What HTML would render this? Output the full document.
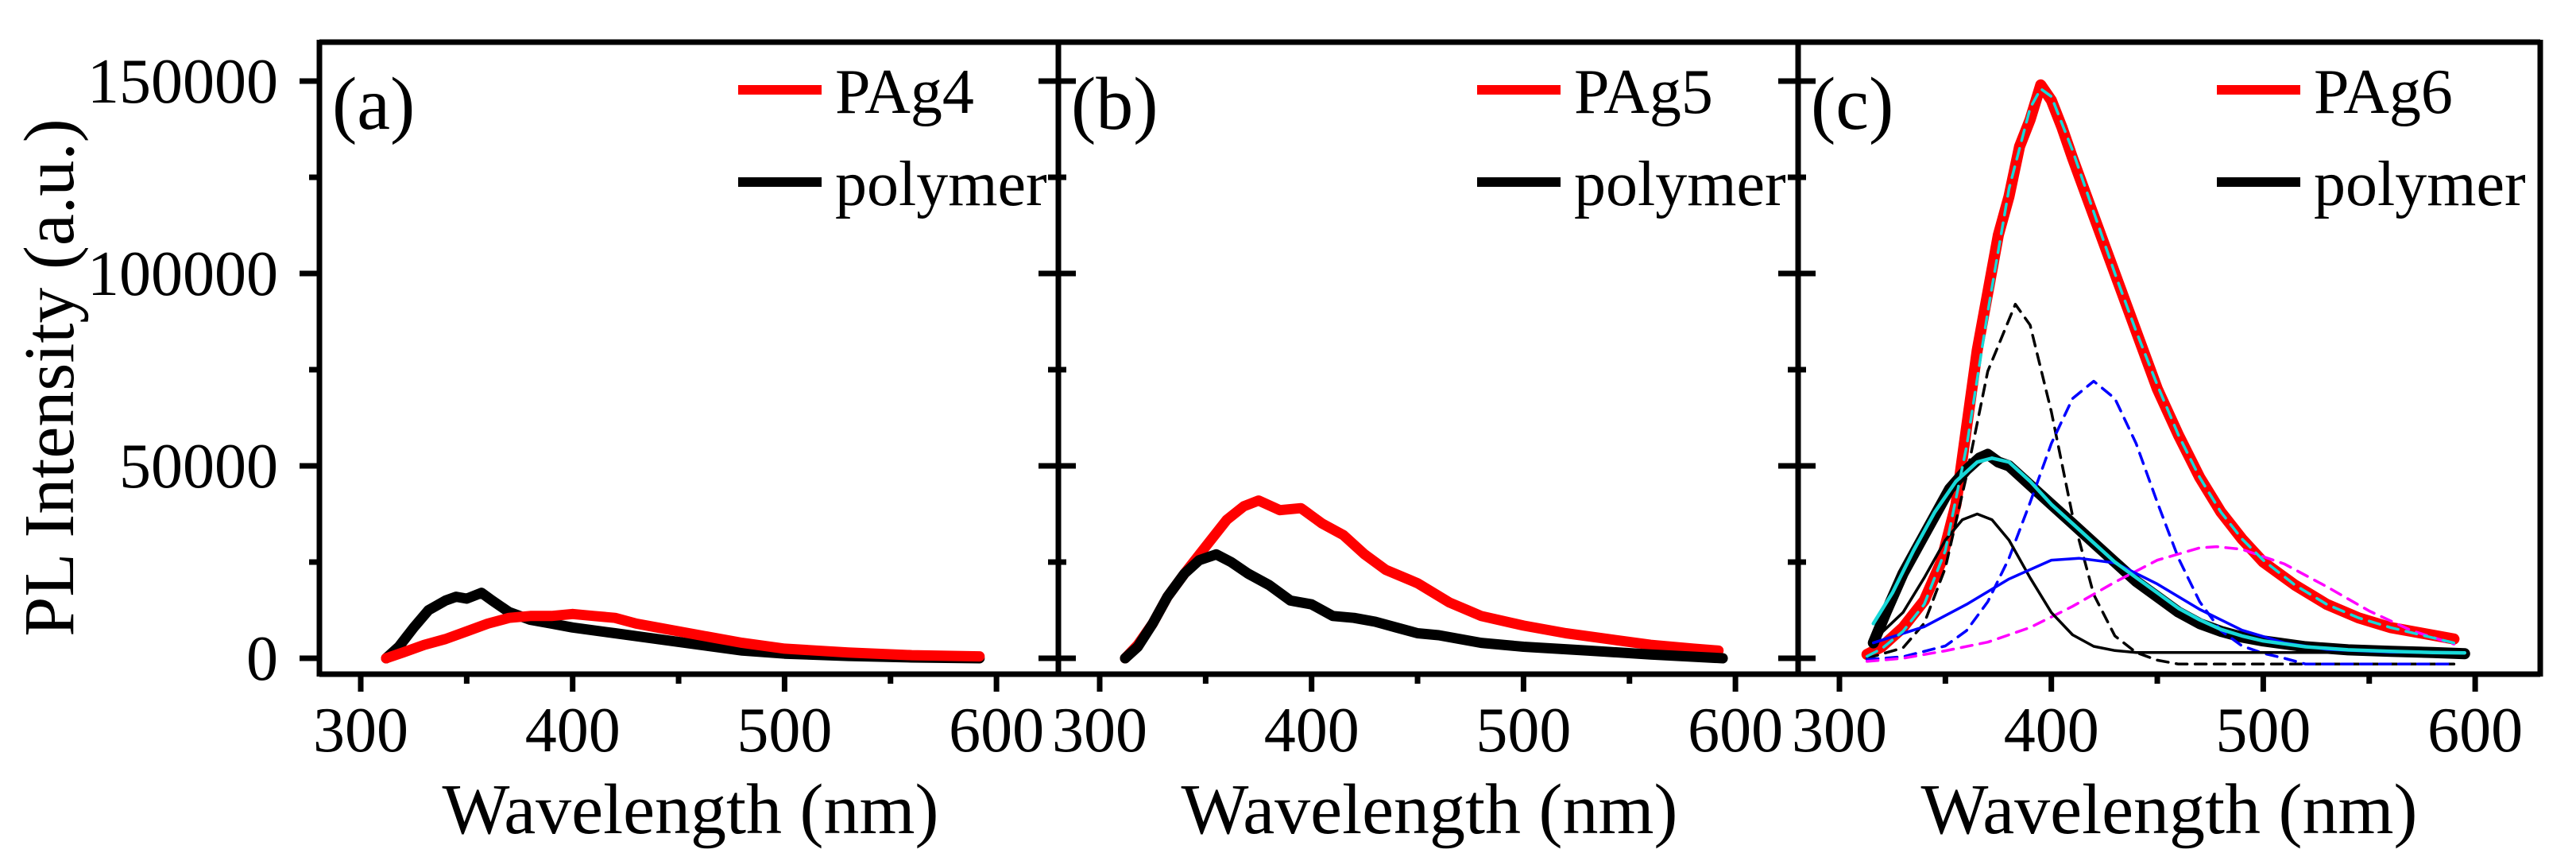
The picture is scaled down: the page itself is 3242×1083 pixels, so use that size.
<!DOCTYPE html>
<html><head><meta charset="utf-8"><style>
html,body{margin:0;padding:0;background:#fff;}
svg{display:block;}
text{font-family:"Liberation Serif","Times New Roman",serif;fill:#000;}
</style></head><body>
<svg id="chart" width="3242" height="1083" viewBox="0 0 3242 1083" xmlns="http://www.w3.org/2000/svg"></svg>
<script>
// ---- data ----
const xTicks = [300, 400, 500, 600];
const xMinor = [350, 450, 550];
const yTicks = [0, 50000, 100000, 150000];
const yTickLabels = ["0", "50000", "100000", "150000"];
const yMinor = [25000, 75000, 125000];
const panelLabels = ["(a)", "(b)", "(c)"];
const sampleNames = ["PAg4", "PAg5", "PAg6"];

const aPolyX = [312,318,325,332,340,345,350,357,362,370,380,390,400,420,440,460,480,500,530,560,592];
const aPolyY = [0,3000,8000,12500,15000,16000,15500,17000,15000,12000,10000,9000,8000,6500,5000,3500,2000,1200,600,200,0];
const aAgX = [312,320,330,340,350,360,370,380,390,400,410,420,430,440,450,460,480,500,530,560,592];
const aAgY = [0,1500,3500,5000,7000,9000,10500,11000,11000,11500,11000,10500,9000,8000,7000,6000,4000,2500,1500,800,500];

const bPolyX = [312,318,325,332,340,347,355,362,370,380,390,400,410,420,430,440,450,460,480,500,530,560,594];
const bPolyY = [0,3000,9000,16000,22000,25500,27000,25000,22000,19000,15000,14000,11000,10500,9500,8000,6500,6000,4000,3000,2000,1000,0];
const bAgX = [312,318,325,332,340,350,360,368,375,385,395,405,415,425,435,450,465,480,500,520,540,560,580,592];
const bAgY = [0,3500,9000,16000,22000,29000,36000,39500,41000,38500,39000,35000,32000,27000,23000,19500,14500,11000,8500,6500,5000,3500,2500,2000];

const cAgX = [313,320,330,340,348,355,360,365,370,375,380,385,390,395,400,405,410,420,430,440,450,460,470,480,490,500,515,530,545,560,575,590];
const cAgY = [1000,3000,8000,15000,25000,40000,60000,80000,95000,110000,120000,133000,140000,149000,145000,138000,130000,115000,100000,85000,70000,58000,47000,38000,31000,25000,19000,14000,10500,8000,6500,5000];
const cPolyX = [316,322,330,338,345,352,360,366,370,375,380,390,400,410,420,430,440,450,460,470,480,490,500,520,540,560,580,595];
const cPolyY = [4000,12000,22000,30000,37000,44000,49000,52000,53000,51000,50000,45000,40000,35000,30000,25000,20000,16000,12000,9000,7000,5500,4500,3000,2200,1800,1500,1200];
const cFitPolyX = [316,325,335,345,355,365,372,380,390,400,410,420,430,440,450,460,470,480,490,500,520,540,560,580,595];
const cFitPolyY = [9000,17000,28000,38000,46000,51000,52000,51000,46000,40000,35000,30000,25000,21000,17000,13000,10000,7500,5800,4500,3000,2200,1800,1500,1400];
const cFitAgX = [313,320,330,340,350,360,370,380,390,395,400,410,420,430,440,450,460,470,480,490,500,515,530,545,560,575,590];
const cFitAgY = [500,2500,7000,14000,28000,55000,90000,122000,143000,148000,146000,132000,116000,100000,85000,71000,58000,47000,38000,31000,25500,19000,14000,10500,8000,6000,4000];
const cG1X = [313,330,340,350,360,370,383,390,400,410,420,430,440,450,460,520,590];
const cG1Y = [0,2700,9100,23500,47500,74600,92000,86600,64100,37000,16600,5800,1500,-500,-1500,-1500,-1500];
const cG2X = [313,330,350,360,370,380,390,400,410,420,430,440,450,460,470,480,490,500,510,520,590];
const cG2Y = [-300,400,3200,7200,14700,26000,40500,55800,67500,72000,67500,55800,40500,26000,14700,7200,3200,1300,0,-1500,-1500];
const cG3X = [313,330,350,370,390,410,430,450,470,478,490,510,530,550,570,590];
const cG3Y = [-800,0,1950,4200,8000,13500,19800,25500,28700,29000,28300,24500,18600,12300,7200,3700];
const cC1X = [316,330,340,350,358,365,372,380,390,400,410,420,430,440,500,595];
const cC1Y = [4600,11900,20900,30700,36000,37500,36000,30700,20900,11900,6100,3100,2000,1500,1500,1500];
const cC2X = [316,340,360,380,400,413,430,450,470,490,510,530,560,595];
const cC2Y = [4000,8200,14000,20600,25500,26000,24800,19300,12700,7300,4000,2300,1600,1500];

// ---- layout ----
const svg = document.getElementById('chart');
const NS = 'http://www.w3.org/2000/svg';
const panelLeft = [402, 1332, 2263];
const PW = 934, TOP = 53, BOT = 848;
function xs(p, v){ return panelLeft[p] + 52 + (v - 300) * 2.667; }
function ys(v){ return 828 - v * 0.00484; }
function mk(tag, attrs, parent){
  const e = document.createElementNS(NS, tag);
  for (const k in attrs) e.setAttribute(k, attrs[k]);
  (parent || svg).appendChild(e);
  return e;
}
function line(p, X, Y, color, w, dash, name){
  let d = '';
  for (let i = 0; i < X.length; i++) d += (i ? 'L' : 'M') + xs(p, X[i]).toFixed(1) + ',' + ys(Y[i]).toFixed(1);
  const e = mk('path', {d: d, fill: 'none', stroke: color, 'stroke-width': w, 'stroke-linejoin': 'round', 'stroke-linecap': 'round'});
  if (dash) e.setAttribute('stroke-dasharray', dash);
  
  
}

for (let p = 0; p < 3; p++) {
  const L = panelLeft[p];
  const g = mk('g', {});
  
  
  xTicks.forEach((t, i) => {
    const x = xs(p, t);
    const tk = mk('line', {x1: x, x2: x, y1: BOT, y2: BOT + 22, stroke: '#000', 'stroke-width': 7}, g);
    
    
    const lb = mk('text', {x: x, y: 945, 'font-size': 80, 'text-anchor': 'middle'}, g);
    lb.textContent = t;
    
    
  });
  xMinor.forEach(t => {
    const x = xs(p, t);
    mk('line', {x1: x, x2: x, y1: BOT, y2: BOT + 12, stroke: '#000', 'stroke-width': 7}, g);
  });
  const inner = p === 0 ? 0 : 22;
  yTicks.forEach((t, i) => {
    const y = ys(t);
    const tk = mk('line', {x1: L - 25, x2: L + inner, y1: y, y2: y, stroke: '#000', 'stroke-width': 7}, g);
    
    
    if (p === 0) {
      const lb = mk('text', {x: 350, y: y + 27, 'font-size': 80, 'text-anchor': 'end'}, g);
      lb.textContent = yTickLabels[i];
      
      
    }
  });
  yMinor.forEach(t => {
    const y = ys(t);
    mk('line', {x1: L - 13, x2: L + (p === 0 ? 0 : 10), y1: y, y2: y, stroke: '#000', 'stroke-width': 7}, g);
  });
  mk('line', {x1: L, x2: L, y1: TOP - 3, y2: BOT + 3, stroke: '#000', 'stroke-width': 7}, g);
  mk('line', {x1: L, x2: L + PW, y1: BOT, y2: BOT, stroke: '#000', 'stroke-width': 7}, g);
  mk('line', {x1: L, x2: L + PW, y1: TOP, y2: TOP, stroke: '#000', 'stroke-width': 7}, g);
  const xt = mk('text', {x: L + PW / 2, y: 1048, 'font-size': 90, 'text-anchor': 'middle'}, g);
  xt.textContent = 'Wavelength (nm)';
  
  
  const pl = mk('text', {x: L + 16, y: 162, 'font-size': 94}, g);
  pl.textContent = panelLabels[p];
  
  
  const lx = L + 527;
  const l1 = mk('line', {x1: lx, x2: lx + 105, y1: 113, y2: 113, stroke: '#f00', 'stroke-width': 12}, g);
  
  
  const t1 = mk('text', {x: lx + 122, y: 142, 'font-size': 80}, g);
  t1.textContent = sampleNames[p];
  
  
  const l2 = mk('line', {x1: lx, x2: lx + 105, y1: 229, y2: 229, stroke: '#000', 'stroke-width': 12}, g);
  
  
  const t2 = mk('text', {x: lx + 122, y: 258, 'font-size': 80}, g);
  t2.textContent = 'polymer';
  
  
}
mk('line', {x1: panelLeft[2] + PW, x2: panelLeft[2] + PW, y1: TOP - 3, y2: BOT + 3, stroke: '#000', 'stroke-width': 7});

const yt = mk('text', {x: 0, y: 0, 'font-size': 90, 'text-anchor': 'middle', transform: 'translate(92,475) rotate(-90)'});
yt.textContent = 'PL Intensity (a.u.)';



line(0, aPolyX, aPolyY, '#000', 13, null, 'polymer-a');
line(0, aAgX, aAgY, '#f00', 13, null, 'pag4-spectrum');
line(1, bAgX, bAgY, '#f00', 13, null, 'pag5-spectrum');
line(1, bPolyX, bPolyY, '#000', 13, null, 'polymer-b');
line(2, cAgX, cAgY, '#f00', 14, null, 'pag6-spectrum');
line(2, cPolyX, cPolyY, '#000', 14, null, 'polymer-c');
line(2, cG1X, cG1Y, '#000', 3.5, '14,10', 'gaussian-component-1');
line(2, cG2X, cG2Y, '#0000ff', 3.5, '14,10', 'gaussian-component-2');
line(2, cG3X, cG3Y, '#ff00ff', 3.5, '14,10', 'gaussian-component-3');
line(2, cC1X, cC1Y, '#000', 3.5, null, 'polymer-component-1');
line(2, cC2X, cC2Y, '#0000ff', 3.5, null, 'polymer-component-2');
line(2, cFitPolyX, cFitPolyY, '#18d8d8', 4.5, null, 'polymer-fit');
line(2, cFitAgX, cFitAgY, '#18d8d8', 3.5, '14,10', 'pag6-fit');
</script>
</body></html>
